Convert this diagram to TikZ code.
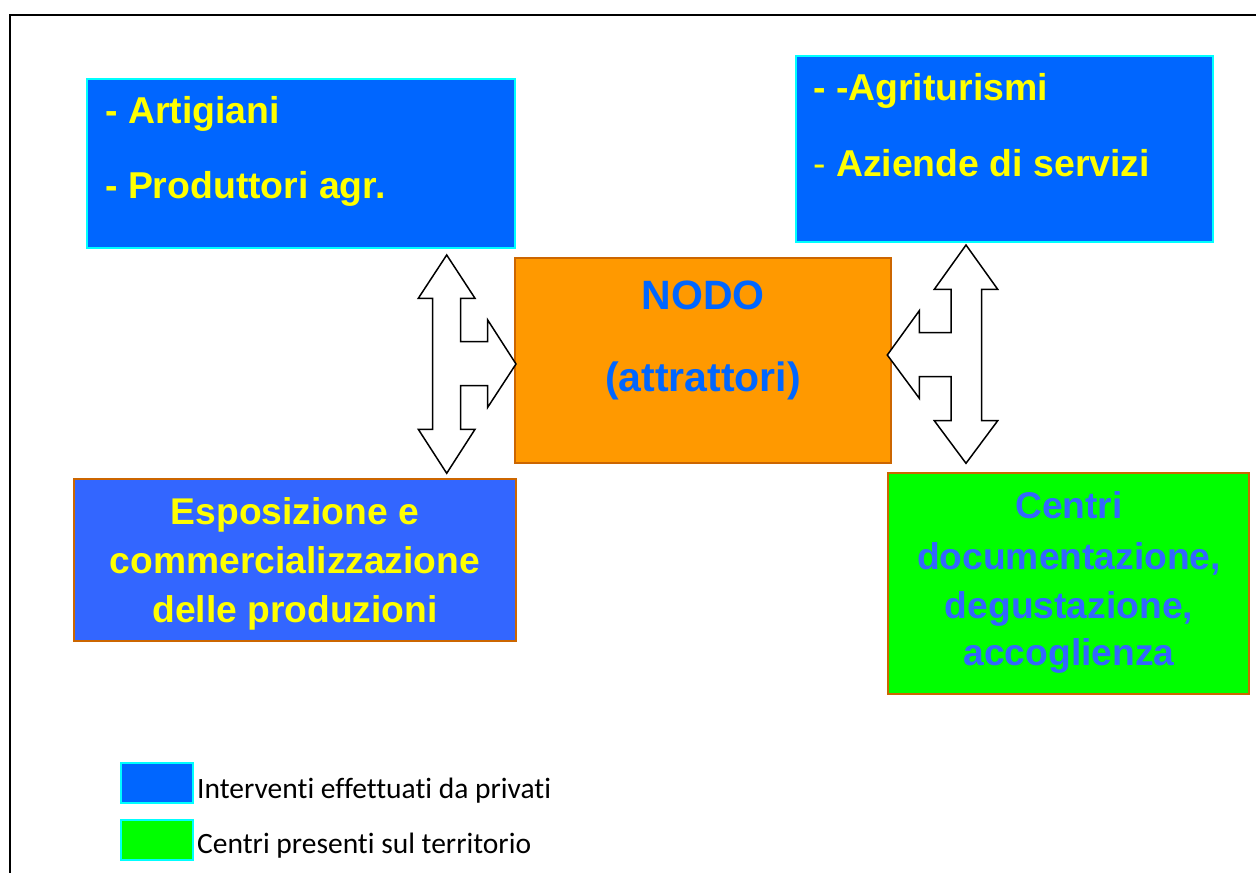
\documentclass[tikz,border=0pt]{standalone}
\usepackage{fontspec}
\setmainfont{Liberation Sans}
\newfontfamily\calibri[Ligatures=NoCommon]{Carlito}
\definecolor{pblue}{HTML}{0066FF}
\definecolor{mblue}{HTML}{3366FF}
\definecolor{cyanb}{HTML}{00FFFF}
\definecolor{orfill}{HTML}{FF9900}
\definecolor{orbord}{HTML}{CC6600}
\definecolor{gfill}{HTML}{00FF00}
\definecolor{ytxt}{HTML}{FFFF00}
\tikzset{
  box/.style={draw, anchor=north west, inner sep=0pt, outer sep=0pt},
  privbox/.style={box, fill=pblue, draw=cyanb, line width=2.5pt},
  obox/.style={box, draw=orbord, line width=2.2pt},
  ytext/.style={text=ytxt, font=\bfseries\fontsize{37.4}{44}\selectfont, inner sep=0pt},
  ctext/.style={font=\bfseries\fontsize{37.2}{44}\selectfont, inner sep=0pt, anchor=base},
  ntext/.style={text=pblue, font=\bfseries\fontsize{41}{48}\selectfont, inner sep=0pt, anchor=base},
  legbox/.style={box, draw=cyanb, line width=2pt},
  legtext/.style={font=\calibri\fontsize{29.5}{34}\selectfont, inner sep=0pt, anchor=base west},
  blockarrow/.style={draw=black, fill=white, line width=1.5pt, line join=miter}
}
\begin{document}
\begin{tikzpicture}[x=1pt,y=-1pt]
\useasboundingbox (0,0) rectangle (1256,873);
% frame
\draw[line width=2pt] (10,880) -- (10,15) -- (1262,15);

% top-left box
\node[privbox, minimum width=428pt, minimum height=169pt] (tl) at (87,79) {};
\node[ytext, anchor=base west] (tl1) at (105,123) {- Artigiani};
\node[ytext, anchor=base west] (tl2) at (105,198) {- Produttori agr.};

% top-right box
\node[privbox, minimum width=417pt, minimum height=186pt] (tr) at (796,56) {};
\node[ytext, anchor=base west] (tr1) at (813,100) {- -Agriturismi};
\node[ytext, anchor=base west] (tr2) at (813,176) {{\mdseries -} Aziende di servizi};

% centre box
\node[obox, fill=orfill, minimum width=376pt, minimum height=205pt] (nodo) at (515,258) {};
\node[ntext] (n1) at (703,309) {NODO};
\node[ntext] (n2) at (703,391) {(attrattori)};

% bottom-left box
\node[obox, fill=mblue, minimum width=442pt, minimum height=162pt] (bl) at (74,479) {};
\node[ctext, text=ytxt] (bl1) at (295,524) {Esposizione e};
\node[ctext, text=ytxt] (bl2) at (295,573) {commercializzazione};
\node[ctext, text=ytxt] (bl3) at (295,622) {delle produzioni};

% bottom-right box
\node[obox, fill=gfill, minimum width=361pt, minimum height=221pt] (br) at (888,473) {};
\node[ctext, text=mblue] (br1) at (1069,518) {Centri};
\node[ctext, text=mblue] (br2) at (1069,569) {documentazione,};
\node[ctext, text=mblue] (br3) at (1069,618) {degustazione,};
\node[ctext, text=mblue] (br4) at (1069,665) {accoglienza};

% left block arrow
\draw[blockarrow] (446.7,255) -- (475,298.3) -- (460.7,298.3) -- (460.7,341.7)
  -- (487.7,341.7) -- (487.7,320) -- (516,364) -- (487.7,407.3) -- (487.7,385.7)
  -- (460.7,385.7) -- (460.7,429.3) -- (475,429.3) -- (446.7,473.3)
  -- (418.3,429.3) -- (432.7,429.3) -- (432.7,298.3) -- (418.3,298.3) -- cycle;

% right block arrow
\draw[blockarrow] (966,245) -- (997.7,289.3) -- (981.7,289.3) -- (981.7,420.7)
  -- (997.7,420.7) -- (966,463.3) -- (934.3,420.7) -- (951,420.7) -- (951,376.7)
  -- (919.3,376.7) -- (919.3,398.3) -- (887.3,355) -- (919.3,310.7) -- (919.3,332.7)
  -- (951,332.7) -- (951,289.3) -- (934.3,289.3) -- cycle;

% legend
\node[legbox, fill=pblue, minimum width=72pt, minimum height=40pt] (lg1) at (121,763) {};
\node[legtext] (lt1) at (197,798) {Interventi effettuati da privati};
\node[legbox, fill=gfill, minimum width=72pt, minimum height=40pt] (lg2) at (121,820) {};
\node[legtext] (lt2) at (197,853) {Centri presenti sul territorio};
\end{tikzpicture}
\end{document}
